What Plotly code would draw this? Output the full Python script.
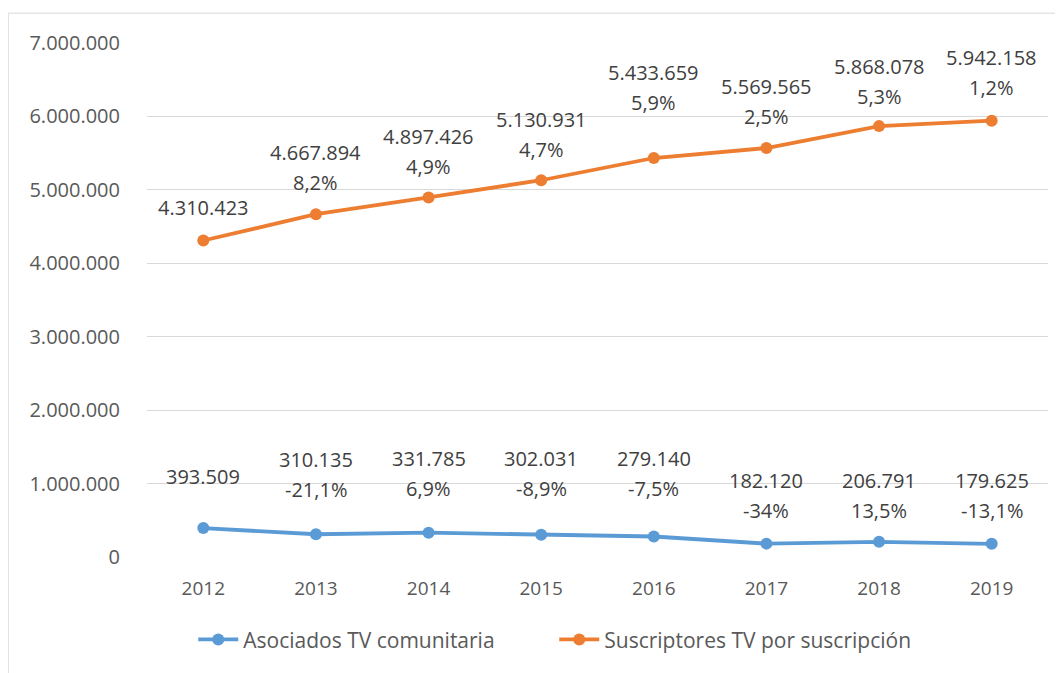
import plotly.graph_objects as go

years = [2012, 2013, 2014, 2015, 2016, 2017, 2018, 2019]
asociados = [393509, 310135, 331785, 302031, 279140, 182120, 206791, 179625]
asociados_pct = ["", "-21,1%", "6,9%", "-8,9%", "-7,5%", "-34%", "13,5%", "-13,1%"]
suscriptores = [4310423, 4667894, 4897426, 5130931, 5433659, 5569565, 5868078, 5942158]
suscriptores_pct = ["", "8,2%", "4,9%", "4,7%", "5,9%", "2,5%", "5,3%", "1,2%"]
y_ticks = [0, 1000000, 2000000, 3000000, 4000000, 5000000, 6000000, 7000000]

# label placement (pixels above point for the lowest label line)
blue_off = [52, 45, 44, 46, 48, 33, 31, 33]
orange_off = [33, 32, 31, 31, 56, 32, 30, 33]

BLUE = "#5B9BD5"
ORANGE = "#ED7D31"
FONT = "Open Sans"
LABEL_COLOR = "#404040"


def fmt(v):
    return f"{v:,}".replace(",", ".")


def fmt_tick(v):
    return "0" if v == 0 else f"{v:,}".replace(",", ".")


fig = go.Figure()
fig.add_trace(go.Scatter(x=years, y=asociados, mode="lines+markers",
                         name="Asociados TV comunitaria",
                         line=dict(color=BLUE, width=3.8),
                         marker=dict(color=BLUE, size=12)))
fig.add_trace(go.Scatter(x=years, y=suscriptores, mode="lines+markers",
                         name="Suscriptores TV por suscripción",
                         line=dict(color=ORANGE, width=3.8),
                         marker=dict(color=ORANGE, size=12)))

annotations = []
for vals, pcts, offs in [(asociados, asociados_pct, blue_off),
                         (suscriptores, suscriptores_pct, orange_off)]:
    for yr, v, p, o in zip(years, vals, pcts, offs):
        if p:
            annotations.append(dict(x=yr, y=v, text=p, showarrow=False,
                                    yanchor="middle", yshift=o,
                                    font=dict(family=FONT, size=20, color=LABEL_COLOR)))
            annotations.append(dict(x=yr, y=v, text=fmt(v), showarrow=False,
                                    yanchor="middle", yshift=o + 30,
                                    font=dict(family=FONT, size=20, color=LABEL_COLOR)))
        else:
            annotations.append(dict(x=yr, y=v, text=fmt(v), showarrow=False,
                                    yanchor="middle", yshift=o,
                                    font=dict(family=FONT, size=20, color=LABEL_COLOR)))

fig.update_layout(
    width=1055, height=665,
    margin=dict(l=139, r=15, t=35, b=116),
    paper_bgcolor="white", plot_bgcolor="white",
    font=dict(family=FONT, size=20, color="#595959"),
    annotations=annotations,
    showlegend=True,
    legend=dict(orientation="h", x=0.452, xanchor="center", y=-0.161, yanchor="middle",
                font=dict(family=FONT, size=21, color="#595959"),
                entrywidth=306, entrywidthmode="pixels",
                itemwidth=40, bgcolor="rgba(0,0,0,0)"),
    shapes=[dict(type="rect", xref="paper", yref="paper",
                 x0=-0.154, x1=1.01, y0=-0.35, y1=1.058,
                 line=dict(color="#D9D9D9", width=1), fillcolor="rgba(0,0,0,0)",
                 layer="below")],
)
fig.update_xaxes(type="linear", range=[2011.5, 2019.5], tickvals=years,
                 ticktext=[str(y) for y in years],
                 showgrid=False, showline=False, zeroline=False,
                 ticks="outside", ticklen=14, tickcolor="rgba(0,0,0,0)",
                 tickfont=dict(family=FONT, size=19, color="#595959"))
fig.update_yaxes(range=[0, 7000000], tickvals=y_ticks,
                 ticktext=[fmt_tick(v) for v in y_ticks],
                 showgrid=True, gridcolor="#D9D9D9", gridwidth=1,
                 zeroline=False, showline=False,
                 ticks="outside", ticklen=22, tickcolor="rgba(0,0,0,0)",
                 tickfont=dict(family=FONT, size=20, color="#595959"))

fig.write_html("out.html")
